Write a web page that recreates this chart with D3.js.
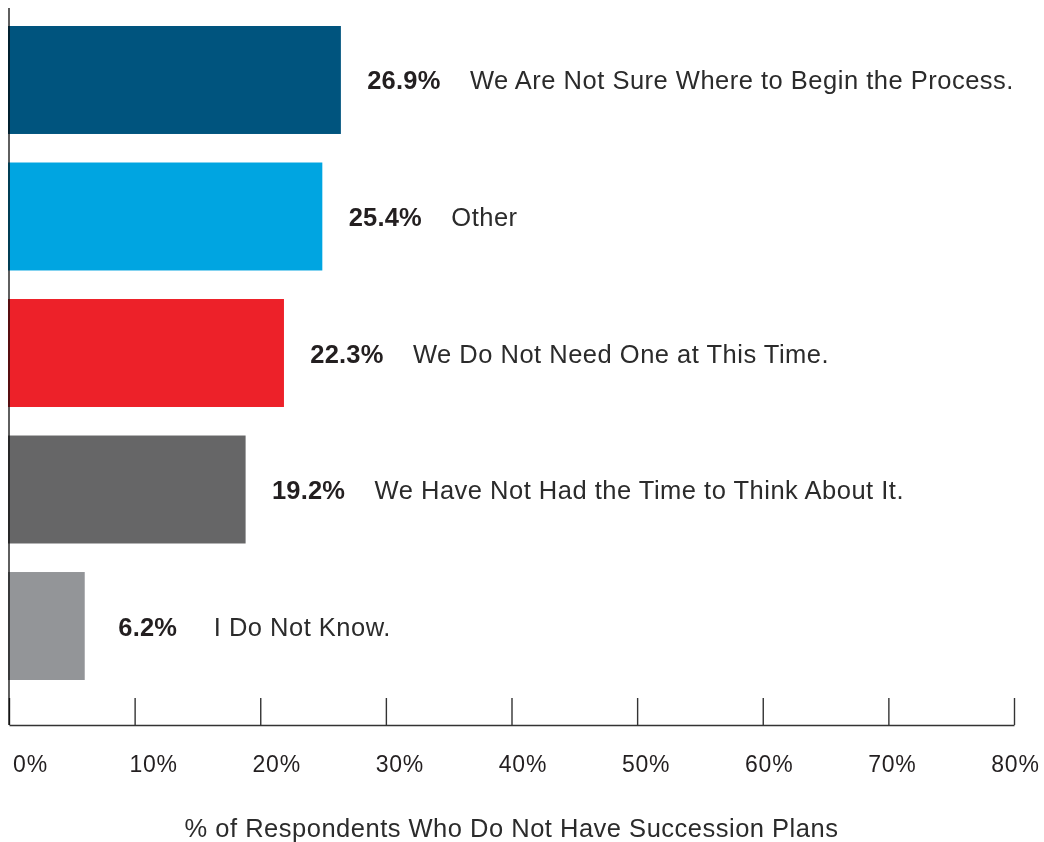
<!DOCTYPE html>
<html>
<head>
<meta charset="utf-8">
<script src="https://cdn.jsdelivr.net/npm/d3@7"></script>
<style>
  html, body { margin: 0; padding: 0; background: #fff; }
  svg { display: block; }
  text { font-family: "Liberation Sans", Arial, sans-serif; }
</style>
</head>
<body>
<svg id="chart" width="1044" height="842"></svg>
<script>
// Reasons given by respondents without a succession plan
const categories = [
  "We Are Not Sure Where to Begin the Process.",
  "Other",
  "We Do Not Need One at This Time.",
  "We Have Not Had the Time to Think About It.",
  "I Do Not Know."
];
const values = [26.9, 25.4, 22.3, 19.2, 6.2];
const barColors = ["#00547e", "#00a5e1", "#ed2129", "#666667", "#939598"];
const tickValues = [0, 10, 20, 30, 40, 50, 60, 70, 80];
const tickLabels = ["0%", "10%", "20%", "30%", "40%", "50%", "60%", "70%", "80%"];
const axisTitle = "% of Respondents Who Do Not Have Succession Plans";

const rows = categories.map((c, i) => ({ category: c, value: values[i], color: barColors[i] }));

const svg = d3.select("#chart");

// Scales
const y = d3.scaleBand().domain(categories).range([26, 680]).paddingInner(0.209).paddingOuter(0);
const xBar = d3.scaleLinear().domain([0, 80]).range([8, 998]);
const xTick = d3.scaleLinear().domain([0, 80]).range([9, 1014]);
const xLabel = d3.scaleLinear().domain([0, 80]).range([30, 1015]);

// Bars
svg.append("g").selectAll("rect")
  .data(rows)
  .join("rect")
  .attr("x", xBar(0))
  .attr("y", d => y(d.category))
  .attr("width", d => xBar(d.value) - xBar(0))
  .attr("height", y.bandwidth())
  .attr("fill", d => d.color);

// Value labels (bold) and category labels beside each bar
const labels = svg.append("g");
labels.selectAll("text.value")
  .data(rows)
  .join("text")
  .attr("class", "value")
  .attr("x", d => xBar(d.value) + 63)
  .attr("y", d => y(d.category) + y.bandwidth() / 2 + 9.5)
  .attr("text-anchor", "middle")
  .attr("font-size", 25.5)
  .attr("font-weight", "bold")
  .attr("letter-spacing", 0.2)
  .attr("fill", "#231f20")
  .text(d => d.value.toFixed(1) + "%");

labels.selectAll("text.cat")
  .data(rows)
  .join("text")
  .attr("class", "cat")
  .attr("x", d => xBar(d.value) + 129)
  .attr("y", d => y(d.category) + y.bandwidth() / 2 + 9.5)
  .attr("font-size", 25.5)
  .attr("letter-spacing", 0.5)
  .attr("fill", "#2b2b2b")
  .text(d => d.category);

// Bottom axis with upward ticks
const axisG = svg.append("g")
  .attr("transform", "translate(0,725)")
  .call(d3.axisBottom(xTick).tickValues(tickValues).tickSizeInner(-27).tickSizeOuter(0).tickFormat(""));
axisG.select(".domain").attr("stroke", "#333").attr("stroke-width", 1.6);
axisG.selectAll(".tick line").attr("stroke", "#333").attr("stroke-width", 1.4);

// Tick labels
const labelAxis = svg.append("g")
  .attr("transform", "translate(0,753)")
  .call(d3.axisBottom(xLabel).tickValues(tickValues).tickSize(0).tickFormat((d, i) => tickLabels[i]));
labelAxis.select(".domain").remove();
labelAxis.selectAll(".tick text")
  .attr("font-family", "\"Liberation Sans\", Arial, sans-serif")
  .attr("font-size", 23)
  .attr("letter-spacing", 0.8)
  .attr("fill", "#231f20")
  .attr("dy", "0.71em");

// Vertical baseline at zero, drawn over the bars
svg.append("line")
  .attr("x1", xTick(0)).attr("x2", xTick(0))
  .attr("y1", 8).attr("y2", 725)
  .attr("stroke", "#5f5f5f")
  .attr("stroke-width", 2)
  .style("mix-blend-mode", "multiply");

// Axis title
svg.append("text")
  .attr("x", (xTick(0) + xTick(80)) / 2)
  .attr("y", 837)
  .attr("text-anchor", "middle")
  .attr("font-size", 25.5)
  .attr("letter-spacing", 0.5)
  .attr("fill", "#2b2b2b")
  .text(axisTitle);
</script>
</body>
</html>
